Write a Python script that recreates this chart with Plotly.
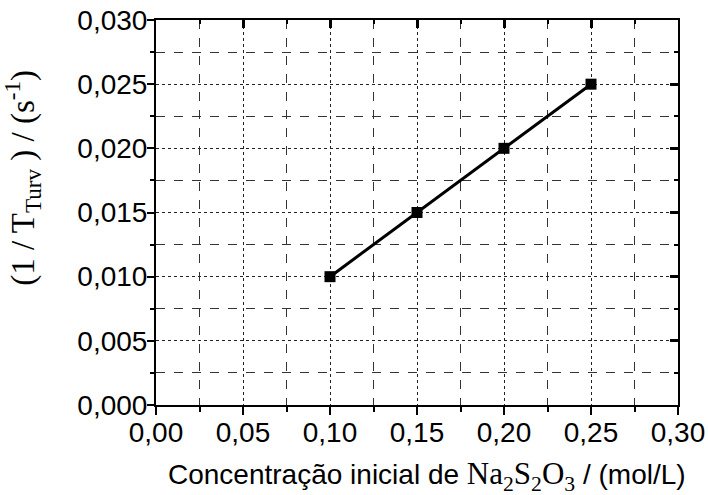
import plotly.graph_objects as go

conc = [0.10, 0.15, 0.20, 0.25]
inv_t = [0.010, 0.015, 0.020, 0.025]
x_range = [0.0, 0.30]
y_range = [0.0, 0.030]

fig = go.Figure()
fig.add_trace(go.Scatter(x=conc, y=inv_t, mode="lines+markers",
                         line=dict(color="black", width=3),
                         marker=dict(symbol="square", size=11, color="black"),
                         showlegend=False))
# dummy trace for mirrored (inward) axes
fig.add_trace(go.Scatter(x=conc, y=inv_t, xaxis="x2", yaxis="y2", mode="markers",
                         marker=dict(opacity=0), showlegend=False, hoverinfo="skip"))

tickfont = dict(family="Liberation Sans, Arial", size=28, color="black")
gridc_major = "#222222"
gridc_minor = "#333333"

fig.update_layout(
    width=708, height=495, autosize=False,
    margin=dict(l=156, r=30, t=20, b=90),
    paper_bgcolor="white", plot_bgcolor="white",
    separators=",.",
    xaxis=dict(range=x_range, dtick=0.05, tick0=0, tickformat=".2f", automargin=False,
               showline=True, linecolor="black", linewidth=2,
               ticks="outside", ticklen=8, tickwidth=2, tickcolor="black",
               tickfont=tickfont, ticklabelstandoff=-7,
               showgrid=True, gridcolor=gridc_major, gridwidth=1, griddash="dot",
               zeroline=False,
               minor=dict(dtick=0.025, tick0=0, ticks="outside", ticklen=5, tickwidth=2,
                          tickcolor="black", showgrid=True, gridcolor=gridc_minor,
                          gridwidth=1, griddash="dash")),
    yaxis=dict(range=y_range, dtick=0.005, tick0=0, tickformat=".3f", automargin=False,
               showline=True, linecolor="black", linewidth=2,
               ticks="outside", ticklen=7, tickwidth=2, tickcolor="black",
               tickfont=tickfont, ticklabelstandoff=-6,
               showgrid=True, gridcolor=gridc_major, gridwidth=1, griddash="dot",
               zeroline=False,
               minor=dict(dtick=0.0025, tick0=0, ticks="outside", ticklen=4, tickwidth=2,
                          tickcolor="black", showgrid=True, gridcolor=gridc_minor,
                          gridwidth=1, griddash="dash")),
    xaxis2=dict(range=x_range, overlaying="x", side="top", dtick=0.05, tick0=0,
                automargin=False,
                showline=True, linecolor="black", linewidth=2,
                ticks="inside", ticklen=8, tickwidth=3, tickcolor="black",
                showticklabels=False, showgrid=False, zeroline=False,
                minor=dict(dtick=0.025, tick0=0, ticks="inside", ticklen=4, tickwidth=2,
                           tickcolor="black", showgrid=False)),
    yaxis2=dict(range=y_range, overlaying="y", side="right", dtick=0.005, tick0=0,
                automargin=False,
                showline=True, linecolor="black", linewidth=2,
                ticks="inside", ticklen=8, tickwidth=3, tickcolor="black",
                showticklabels=False, showgrid=False, zeroline=False,
                minor=dict(dtick=0.0025, tick0=0, ticks="inside", ticklen=4, tickwidth=2,
                           tickcolor="black", showgrid=False)),
)

fig.add_annotation(
    text="(1 / T<sub>Turv</sub> ) / (s<sup>-1</sup>)",
    xref="paper", yref="paper", x=-0.255, y=0.59, xanchor="center", yanchor="middle",
    textangle=-90, showarrow=False,
    font=dict(family="Liberation Serif, Times New Roman", size=33, color="black"))

fig.add_annotation(
    text="Concentração inicial de <span style='font-family:Liberation Serif;font-size:31px'>"
         "Na<sub>2</sub>S<sub>2</sub>O<sub>3</sub></span> / (mol/L)",
    xref="paper", yref="paper", x=0.52, y=-0.185, xanchor="center", yanchor="middle",
    showarrow=False,
    font=dict(family="Liberation Sans, Arial", size=28, color="black"))

fig.write_html("out.html")
